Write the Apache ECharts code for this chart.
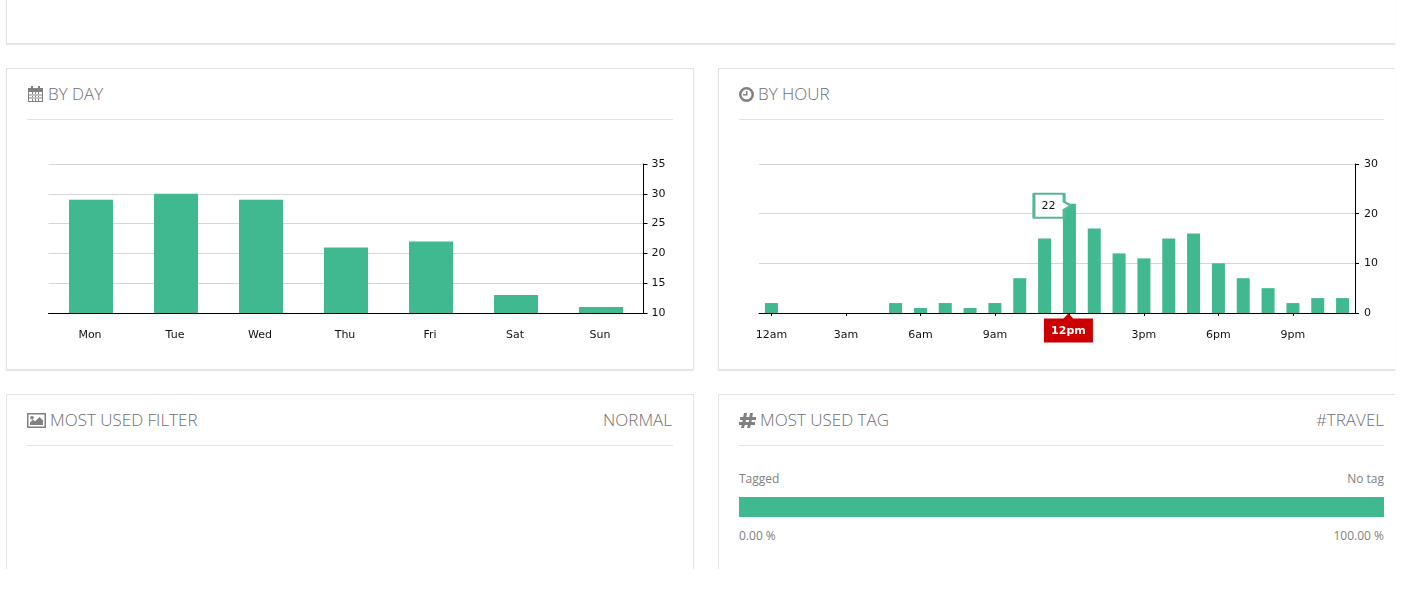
<!DOCTYPE html>
<html>
<head>
<meta charset="utf-8">
<script src="https://cdn.jsdelivr.net/npm/echarts@6/dist/echarts.min.js"></script>
<style>
  html, body { margin: 0; padding: 0; background: #fff; width: 1402px; height: 594px; overflow: hidden; }
  body { position: relative; font-family: "Open Sans", sans-serif; color: #7a7a7a; }
  .panel { position: absolute; box-sizing: border-box; background: #fff; border: 1px solid #e3e3e3; box-shadow: 0 1px 1px #e9e9e9; }
  .head { position: absolute; left: 20px; height: 50px; font-family: "Open Sans", sans-serif; font-weight: 300; font-size: 17px; line-height: 50px; color: #6e6e6e; border-bottom: 1px solid #e3e3e3; }
  .head svg { vertical-align: -2px; margin-right: 4px; fill: #808080; }
  .head .right { position: absolute; right: 1px; top: 0; }
  .chart { position: absolute; }
  .small { position: absolute; font-size: 12px; color: #808080; line-height: 16px; }
</style>
</head>
<body>
<div class="panel" style="left:6px;top:-10px;width:1389px;height:54px;border-top:0;border-right:0"></div>

<div class="panel" style="left:6px;top:68px;width:688px;height:302px">
  <div class="head" style="top:0;width:646px">
    <svg width="17" height="16" viewBox="0 0 17 16"><path fill-rule="evenodd" d="M1 2h3V0h2v2h5V0h2v2h3v14H1zM2 6v9h13V6zM5 6v9h1V6zM8 6v9h1V6zM11 6v9h1V6zM2 8.500h13v1H2zM2 11.500h13v1H2z"/></svg>BY DAY
  </div>
</div>
<div class="panel" style="left:718px;top:68px;width:677px;height:302px;border-right:0">
  <div class="head" style="top:0;width:645px">
    <svg width="15" height="15" viewBox="0 0 15 15"><path fill-rule="evenodd" d="M7.500 0a7.500 7.500 0 1 0 0 15a7.500 7.500 0 0 0 0-15zM7.500 2.500a5 5 0 1 1 0 10a5 5 0 0 1 0-10zM7 4h1.500v4.500H4V7h3z"/></svg>BY HOUR
  </div>
</div>
<div class="panel" style="left:6px;top:394px;width:688px;height:190px;box-shadow:none">
  <div class="head" style="top:0;width:646px">
    <svg width="19" height="15" viewBox="0 0 19 15"><path fill-rule="evenodd" d="M0 0h19v15H0zM1.500 1.500v12h16v-12zM3 12V9.500l3-3 2 2 4.500-4.500 3.500 3.500V12zM5 3a1.800 1.800 0 1 1 0 3.600a1.800 1.800 0 0 1 0-3.600z"/></svg>MOST USED FILTER<span class="right">NORMAL</span>
  </div>
</div>
<div class="panel" style="left:718px;top:394px;width:677px;height:190px;border-right:0;box-shadow:none">
  <div class="head" style="top:0;width:645px">
    <svg width="17" height="15" viewBox="0 0 17 15"><path d="M5 0h3L7.300 4h3L11 0h3l-.7 4H17v3h-4.200l-.4 2H16v3h-4.200L11 15H8l.8-3h-3L5 15H2l.8-3H0V9h3.300l.4-2H1V4h3.200zM7 7l-.4 2h3.200l.4-2z"/></svg>MOST USED TAG<span class="right" style="right:0">#TRAVEL</span>
  </div>
  <div class="small" style="left:20px;top:76px">Tagged</div>
  <div class="small" style="right:11px;top:76px">No tag</div>
  <div class="small" style="left:20px;top:133px">0.00 %</div>
  <div class="small" style="right:11px;top:133px">100.00 %</div>
</div>
<div style="position:absolute;left:0;top:569px;width:1402px;height:25px;background:#fff"></div>

<div id="dayChart" class="chart" style="left:7px;top:130px;width:686px;height:230px"></div>
<div id="hourChart" class="chart" style="left:719px;top:130px;width:676px;height:230px"></div>
<div id="tagChart" class="chart" style="left:739px;top:497px;width:645px;height:20px"></div>

<script>
var dayCategories = ['Mon', 'Tue', 'Wed', 'Thu', 'Fri', 'Sat', 'Sun'];
var dayValues = [29, 30, 29, 21, 22, 13, 11];
var dayTicks = [10, 15, 20, 25, 30, 35];

var hourCategories = ['12am', '1am', '2am', '3am', '4am', '5am', '6am', '7am', '8am', '9am', '10am', '11am',
  '12pm', '1pm', '2pm', '3pm', '4pm', '5pm', '6pm', '7pm', '8pm', '9pm', '10pm', '11pm'];
var hourValues = [2, 0, 0, 0, 0, 2, 1, 2, 1, 2, 7, 15, 22, 17, 12, 11, 15, 16, 10, 7, 5, 2, 3, 3];
var hourTicks = [0, 10, 20, 30];
var selectedHour = '12pm';

var tagCategories = ['Tagged', 'No tag'];
var tagValues = [0, 100];

var green = '#40b890';
var axisFont = { color: '#111', fontSize: 11, fontFamily: '"DejaVu Sans", Verdana, sans-serif' };

function baseOption(categories, values, ticks, barWidth) {
  return {
    animation: false,
    grid: { left: 41.5, right: 49.5, top: 34, bottom: 47 },
    xAxis: {
      type: 'category',
      data: categories,
      axisLine: { lineStyle: { color: '#000', width: 1 } },
      axisTick: { show: false },
      axisLabel: Object.assign({ margin: 17, padding: [0, 2, 0, 0] }, axisFont)
    },
    yAxis: {
      type: 'value',
      position: 'right',
      min: ticks[0],
      max: ticks[ticks.length - 1],
      interval: ticks[1] - ticks[0],
      axisLine: { show: true, lineStyle: { color: '#000', width: 1 } },
      axisTick: { show: true, length: 4, lineStyle: { color: '#000' } },
      axisLabel: Object.assign({ margin: 8, padding: [3, 0, 0, 0] }, axisFont),
      splitLine: { lineStyle: { color: '#d6d6d6', width: 1 } }
    },
    series: [{
      type: 'bar',
      data: values,
      barWidth: barWidth,
      itemStyle: { color: green }
    }]
  };
}

var dayChart = echarts.init(document.getElementById('dayChart'));
dayChart.setOption(baseOption(dayCategories, dayValues, dayTicks, 44));

var hourChart = echarts.init(document.getElementById('hourChart'));
var hourOption = baseOption(hourCategories, hourValues, hourTicks, 13);
hourOption.grid.left = 40;
hourOption.grid.right = 40;
hourOption.yAxis.axisLabel.margin = 9;
function everyThird(index, value) {
  return index % 3 === 0;
}
hourOption.xAxis.axisTick = { show: true, alignWithLabel: true, interval: everyThird, length: 3, lineStyle: { color: '#000' } };
hourOption.xAxis.axisLabel.padding = 0;
hourOption.xAxis.axisLabel.interval = function (index, value) {
  return index % 3 === 0 && value !== selectedHour;
};
hourOption.series[0].markPoint = {
  silent: true,
  data: [
    {
      // callout with the value, pointing at the top of the bar
      coord: [selectedHour, hourValues[hourCategories.indexOf(selectedHour)]],
      value: hourValues[hourCategories.indexOf(selectedHour)],
      symbol: 'path://M0 0H31V8L38 12L31 16V24H0Z',
      symbolSize: [37, 24],
      symbolOffset: [-17, 2],
      itemStyle: { color: '#fff', borderColor: '#55b997', borderWidth: 2.500, borderJoin: 'round' },
      label: Object.assign({ show: true, position: 'inside', offset: [-4, 0], formatter: '{c}' }, axisFont)
    },
    {
      // highlighted hour under the axis
      coord: [selectedHour, 0],
      value: selectedHour,
      symbol: 'path://M20 5L25 0L30 5H50V29H0V5Z',
      symbolSize: [49, 29],
      symbolOffset: [-1, 15],
      itemStyle: { color: '#cc0000', borderWidth: 0 },
      label: { show: true, position: 'inside', offset: [0, 3], formatter: '{c}', color: '#fff', fontSize: 11, fontWeight: 'bold', fontFamily: axisFont.fontFamily }
    }
  ]
};
hourChart.setOption(hourOption);

var tagChart = echarts.init(document.getElementById('tagChart'));
tagChart.setOption({
  animation: false,
  grid: { left: 0, right: 0, top: 0, bottom: 0 },
  xAxis: { type: 'value', min: 0, max: 100, show: false },
  yAxis: { type: 'category', data: ['tag'], show: false },
  series: tagCategories.map(function (name, i) {
    return {
      name: name,
      type: 'bar',
      stack: 'tag',
      barWidth: 20,
      data: [tagValues[i]],
      itemStyle: { color: green }
    };
  })
});
</script>
</body>
</html>
